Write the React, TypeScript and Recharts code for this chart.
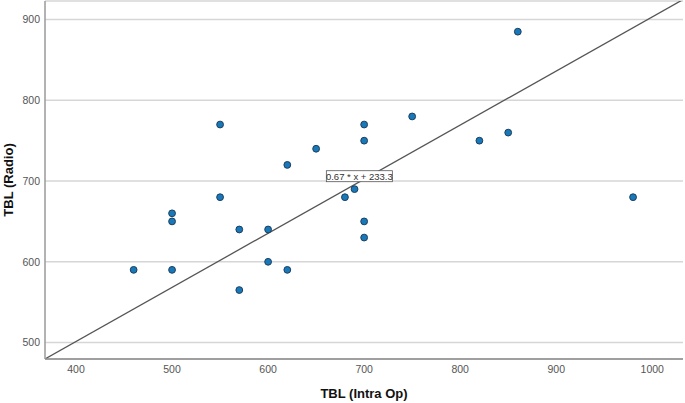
import React from 'react';
import {
  ScatterChart,
  Scatter,
  XAxis,
  YAxis,
  CartesianGrid,
  ReferenceLine,
  ReferenceDot,
} from 'recharts';

// TBL measured intra-op vs. on radiograph
const intraOp = [460, 500, 500, 500, 550, 550, 570, 570, 600, 600, 620, 620, 650, 680, 690, 700, 700, 700, 700, 750, 820, 850, 860, 980];
const radio = [590, 590, 650, 660, 770, 680, 640, 565, 640, 600, 720, 590, 740, 680, 690, 770, 750, 650, 630, 780, 750, 760, 885, 680];

const xTicks = [400, 500, 600, 700, 800, 900, 1000];
const yTicks = [500, 600, 700, 800, 900];

// fit line: y = slope * x + intercept
const slope = 0.67;
const intercept = 233.3;
const fitLabel = '0.67 * x + 233.3';

const xDomain: [number, number] = [367.7, 1032];
const yDomain: [number, number] = [479.6, 923];

const points = intraOp.map((x, i) => ({ x, y: radio[i] }));

const fitSegment = [
  { x: xDomain[0], y: slope * xDomain[0] + intercept },
  { x: xDomain[1], y: slope * xDomain[1] + intercept },
];

const font = '"Liberation Sans", Arial, sans-serif';

const Dot = (props: any) => (
  <circle cx={props.cx} cy={props.cy} r={3.4} fill="#1878b8" stroke="#1d3f60" strokeWidth={1} />
);

const FitLabel = (props: any) => {
  const { cx, cy } = props;
  const w = 66;
  const h = 11;
  return (
    <g>
      <rect x={cx - w / 2} y={cy - h / 2} width={w} height={h} fill="#fff" stroke="#555" strokeWidth={0.8} />
      <text x={cx} y={cy + 3.5} textAnchor="middle" fontSize={9.5} fontFamily={font} fill="#333">
        {fitLabel}
      </text>
    </g>
  );
};

export default function App() {
  return (
    <div style={{ position: 'absolute', left: 0, top: 0, width: 685, height: 403, background: '#fff' }}>
      <ScatterChart width={685} height={403} margin={{ top: 1, right: 2, bottom: 0, left: 0 }}>
        <CartesianGrid vertical={false} stroke="#d6d6d6" strokeWidth={1.5} />
        <XAxis
          type="number"
          dataKey="x"
          domain={xDomain}
          ticks={xTicks}
          allowDataOverflow
          height={44}
          tickLine={false}
          tickSize={0}
          tickMargin={7}
          axisLine={{ stroke: '#8a8a8a', strokeWidth: 1.5 }}
          tick={{ fontSize: 10.5, fill: '#555', fontFamily: font }}
          label={{
            value: 'TBL (Intra Op)',
            position: 'insideBottom',
            offset: 5,
            fontSize: 13,
            fontWeight: 'bold',
            fill: '#111',
            fontFamily: font,
          }}
        />
        <YAxis
          type="number"
          dataKey="y"
          domain={yDomain}
          ticks={yTicks}
          allowDataOverflow
          width={45}
          tickLine={false}
          tickSize={0}
          tickMargin={5}
          axisLine={{ stroke: '#9a9a9a', strokeWidth: 1.5 }}
          tick={{ fontSize: 10.5, fill: '#555', fontFamily: font }}
          label={{
            value: 'TBL (Radio)',
            angle: -90,
            position: 'center',
            dx: -14,
            fontSize: 13,
            fontWeight: 'bold',
            fill: '#111',
            fontFamily: font,
          }}
        />
        <ReferenceLine segment={fitSegment} stroke="#555" strokeWidth={1.3} ifOverflow="hidden" />
        <Scatter data={points} shape={<Dot />} isAnimationActive={false} />
        <ReferenceDot x={695} y={706} r={0} shape={<FitLabel />} ifOverflow="visible" />
      </ScatterChart>
    </div>
  );
}
